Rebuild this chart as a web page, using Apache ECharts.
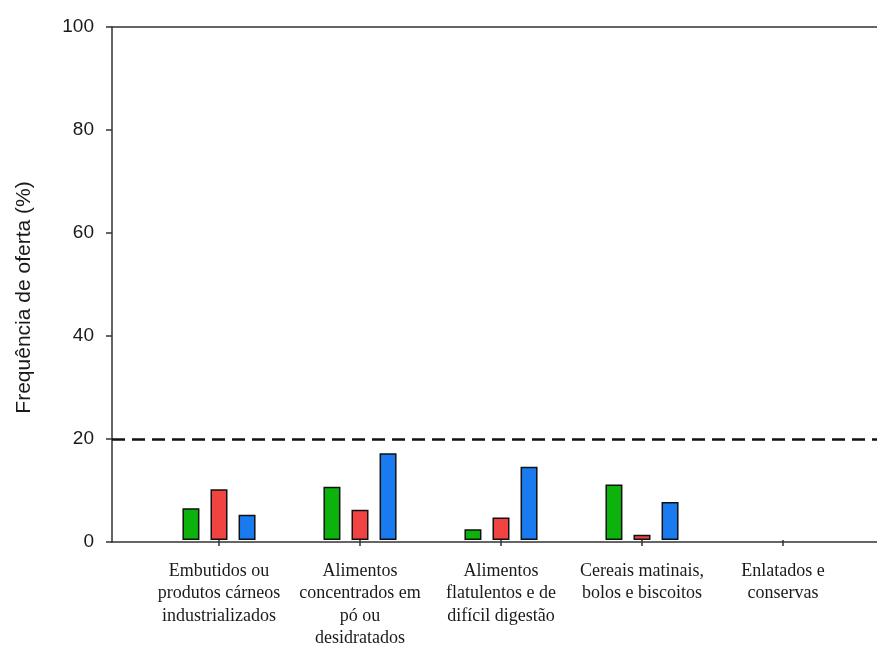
<!DOCTYPE html>
<html>
<head>
<meta charset="utf-8">
<script src="https://cdn.jsdelivr.net/npm/echarts@6/dist/echarts.min.js"></script>
<style>
  html, body { margin: 0; padding: 0; background: #ffffff; }
  #chart { width: 877px; height: 650px; }
</style>
</head>
<body>
<div id="chart"></div>
<script>
// Food groups offered (x axis categories)
const categories = [
  'Embutidos ou\nprodutos cárneos\nindustrializados',
  'Alimentos\nconcentrados em\npó ou\ndesidratados',
  'Alimentos\nflatulentos e de\ndifícil digestão',
  'Cereais matinais,\nbolos e biscoitos',
  'Enlatados e\nconservas'
];

// Offer frequency (%) for each of the three groups
const greenValues = [6.2, 10.4, 2.1, 10.8, 0];
const redValues   = [9.9, 5.9, 4.4, 1.0, 0];
const blueValues  = [4.9, 16.9, 14.3, 7.4, 0];

// Reference limit (%) drawn as a dashed line
const threshold = 20;

// Y axis ticks
const yMin = 0, yMax = 100, yStep = 20;

const colors = { green: '#0db30d', red: '#f24343', blue: '#1a7bf0' };
const axisColor = '#333';

const chart = echarts.init(document.getElementById('chart'), null, { renderer: 'canvas' });

function barSeries(name, data, color) {
  return {
    name: name,
    type: 'bar',
    xAxisIndex: 1,
    yAxisIndex: 1,
    // empty bars get no outline
    data: data.map(v => v === 0 ? { value: v, itemStyle: { borderWidth: 0 } } : v),
    barWidth: 17,
    barGap: '65%',
    itemStyle: { color: color, borderColor: '#111', borderWidth: 1.5 },
    emphasis: { disabled: true }
  };
}

function frameLine(position) {
  return {
    type: 'value', gridIndex: 0, min: 0, max: 1, position: position,
    axisLine: { show: true, lineStyle: { color: axisColor, width: 1.5 } },
    axisTick: { show: false }, axisLabel: { show: false }, splitLine: { show: false }
  };
}

chart.setOption({
  animation: false,
  backgroundColor: '#ffffff',
  grid: [
    // open frame: left axis, bottom and top lines running to the right edge
    { left: 112, top: 27, bottom: 108, right: 0 },
    // category band area for the bars
    { left: 148.5, top: 27, bottom: 108, width: 705 }
  ],
  xAxis: [
    frameLine('bottom'),
    {
      type: 'category', gridIndex: 1, data: categories,
      axisLine: { show: false },
      axisTick: { show: true, alignWithLabel: true, length: 6, lineStyle: { color: axisColor, width: 1.5 } },
      axisLabel: {
        interval: 0, margin: 20,
        fontFamily: '"Liberation Serif", "Times New Roman", serif',
        fontSize: 18, lineHeight: 22.5, color: '#1a1a1a'
      }
    },
    frameLine('top')
  ],
  yAxis: [
    {
      type: 'value', gridIndex: 0, min: yMin, max: yMax, interval: yStep,
      name: 'Frequência de oferta (%)',
      nameLocation: 'middle', nameGap: 77,
      nameTextStyle: {
        fontFamily: 'Arial, "Liberation Sans", sans-serif', fontSize: 21, color: '#1a1a1a',
        padding: [0, 26, 0, 0]
      },
      axisLine: { show: true, lineStyle: { color: axisColor, width: 1.5 } },
      axisTick: { show: true, inside: false, length: 6, lineStyle: { color: axisColor, width: 1.5 } },
      axisLabel: { margin: 18, fontFamily: 'Arial, "Liberation Sans", sans-serif', fontSize: 19, color: '#1a1a1a' },
      splitLine: { show: false }
    },
    { type: 'value', gridIndex: 1, min: yMin, max: yMax, interval: yStep, show: false, splitLine: { show: false } }
  ],
  series: [
    barSeries('A', greenValues, colors.green),
    barSeries('B', redValues, colors.red),
    barSeries('C', blueValues, colors.blue),
    {
      name: 'limite',
      type: 'line',
      xAxisIndex: 0,
      yAxisIndex: 0,
      data: [],
      silent: true,
      markLine: {
        silent: true,
        symbol: 'none',
        label: { show: false },
        lineStyle: { type: [13, 7], width: 2.5, color: '#111' },
        data: [{ yAxis: threshold }]
      }
    }
  ]
});
</script>
</body>
</html>
